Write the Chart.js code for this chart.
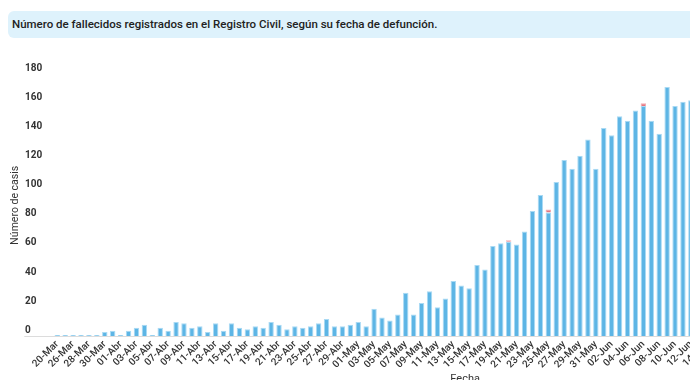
<!DOCTYPE html>
<html>
<head>
<meta charset="utf-8">
<script src="https://cdn.jsdelivr.net/npm/chart.js@4.4.1/dist/chart.umd.min.js"></script>
<style>
html,body{margin:0;padding:0;background:#fff;overflow:hidden;width:690px;height:380px;position:relative;}
#title{position:absolute;left:8px;top:11px;width:720px;height:27px;background:#def2fc;border-radius:6px;font-family:Roboto,sans-serif;font-size:11.5px;font-weight:500;color:#222;line-height:27px;padding-left:4px;box-sizing:border-box;white-space:nowrap;}
#wrap{position:absolute;left:0;top:40px;width:890px;height:351px;}
</style>
</head>
<body>
<div id="title">Número de fallecidos registrados en el Registro Civil, según su fecha de defunción.</div>
<div id="wrap"><canvas id="c"></canvas></div>
<script>
const categories = [
  '20-Mar','25-Mar','26-Mar','27-Mar','28-Mar','29-Mar','30-Mar','31-Mar',
  '01-Abr','02-Abr','03-Abr','04-Abr','05-Abr','06-Abr','07-Abr','08-Abr','09-Abr','10-Abr',
  '11-Abr','12-Abr','13-Abr','14-Abr','15-Abr','16-Abr','17-Abr','18-Abr','19-Abr','20-Abr',
  '21-Abr','22-Abr','23-Abr','24-Abr','25-Abr','26-Abr','27-Abr','28-Abr','29-Abr','30-Abr',
  '01-May','02-May','03-May','04-May','05-May','06-May','07-May','08-May','09-May','10-May',
  '11-May','12-May','13-May','14-May','15-May','16-May','17-May','18-May','19-May','20-May',
  '21-May','22-May','23-May','24-May','25-May','26-May','27-May','28-May','29-May','30-May','31-May',
  '01-Jun','02-Jun','03-Jun','04-Jun','05-Jun','06-Jun','07-Jun','08-Jun','09-Jun','10-Jun',
  '11-Jun','12-Jun','13-Jun','14-Jun','15-Jun','16-Jun','17-Jun','18-Jun','19-Jun','20-Jun',
  '21-Jun','22-Jun','23-Jun','24-Jun','25-Jun','26-Jun','27-Jun','28-Jun','29-Jun','30-Jun',
  '01-Jul','02-Jul','03-Jul','04-Jul','05-Jul'
];

// visible values (bars beyond the right edge of the picture are unknown -> null)
const fallecidos = [
  1,1,1,1,1,1,3,4,
  1,4,6,8,1,6,4,10,9,6,
  7,3,9,4,9,6,5,7,6,10,
  8,5,7,6,7,9,12,7,7,8,
  10,7,19,13,11,15,30,15,23,31,
  20,26,38,35,33,49,46,62,64,65,
  63,72,86,97,85,106,121,115,124,135,115,
  143,138,151,148,155,158,148,139,171,158,
  161,162,null,null,null,null,null,null,null,null,
  null,null,null,null,null,null,null,null,null,null,
  null,null,null,null,null
];

const otros = [
  null,null,null,null,null,null,null,null,
  null,null,null,null,null,null,null,null,null,null,
  null,null,null,null,null,null,null,null,null,null,
  null,null,null,null,null,null,null,null,null,null,
  null,null,null,null,null,null,null,null,null,null,
  null,null,null,null,null,null,null,null,null,1,
  null,null,null,null,2,null,null,null,null,null,null,
  null,null,null,null,null,2,null,null,null,null,
  null,null,null,null,null,null,null,null,null,null,
  null,null,null,null,null,null,null,null,null,null,
  null,null,null,null,null
];

const yTicks = [0,20,40,60,80,100,120,140,160,180];

new Chart(document.getElementById('c'), {
  type: 'bar',
  data: {
    labels: categories,
    datasets: [
      {
        label: 'Fallecidos',
        data: fallecidos,
        backgroundColor: '#5db5e5',
        borderColor: '#a9daf4',
        borderWidth: 1,
        categoryPercentage: 0.76,
        barPercentage: 0.9
      },
      {
        label: 'Otros',
        data: otros,
        backgroundColor: '#e57680',
        borderColor: '#f2aab0',
        borderWidth: 1,
        categoryPercentage: 0.76,
        barPercentage: 0.9
      }
    ]
  },
  options: {
    responsive: true,
    maintainAspectRatio: false,
    animation: false,
    layout: { padding: { top: 34, right: 13, left: 25, bottom: 0 } },
    plugins: { legend: { display: false }, tooltip: { enabled: false } },
    scales: {
      x: {
        stacked: true,
        offset: true,
        grid: { display: false, drawTicks: false },
        border: { display: false },
        ticks: {
          autoSkip: false,
          maxRotation: 45,
          minRotation: 45,
          padding: 2,
          color: '#333',
          font: { family: 'Roboto', size: 10, weight: '500' },
          callback: function(v, i) { return i % 2 === 0 ? this.getLabelForValue(v) : ''; }
        },
        title: {
          display: true,
          text: 'Fecha',
          color: '#333',
          font: { family: 'Roboto', size: 11 },
          padding: { top: 0, bottom: 5 }
        }
      },
      y: {
        stacked: true,
        min: 0,
        max: 180,
        afterBuildTicks: s => { s.ticks = yTicks.map(v => ({ value: v })); },
        afterFit: s => { s.width = 28.3; },
        border: { display: false },
        grid: {
          color: c => (c.tick && c.tick.value === 0) ? '#dcdcdc' : 'rgba(0,0,0,0)',
          tickLength: 29,
          drawTicks: true
        },
        ticks: {
          crossAlign: 'far',
          padding: -17,
          labelOffset: -6,
          color: '#333',
          font: { family: 'Roboto', size: 10, weight: 'bold' }
        },
        title: {
          display: true,
          text: 'Número de casis',
          color: '#333',
          font: { family: 'Roboto', size: 10.5 },
          padding: { top: -16.3, bottom: 0 }
        }
      }
    }
  }
});
</script>
</body>
</html>
